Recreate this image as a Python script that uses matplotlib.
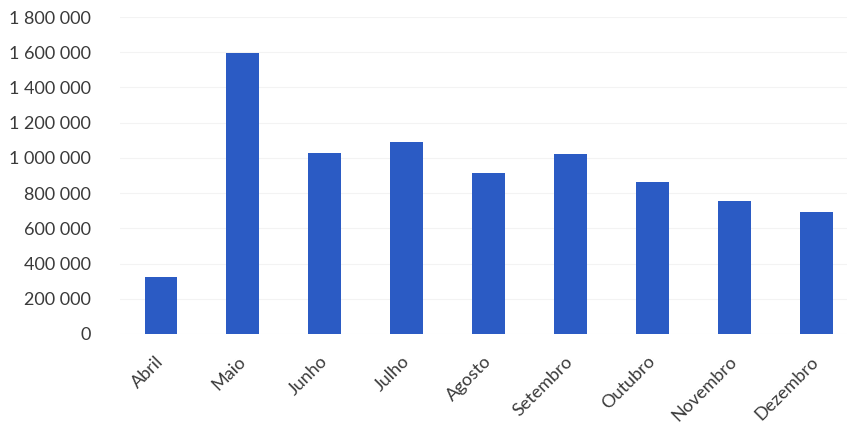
import matplotlib.pyplot as plt
import matplotlib.transforms as mtransforms
from matplotlib.ticker import FuncFormatter

months = ['Abril', 'Maio', 'Junho', 'Julho', 'Agosto', 'Setembro',
          'Outubro', 'Novembro', 'Dezembro']
values = [325000, 1597000, 1028000, 1090000, 913000, 1021000,
          863000, 758000, 690000]
yticks = [0, 200000, 400000, 600000, 800000, 1000000, 1200000,
          1400000, 1600000, 1800000]

plt.rcParams['font.family'] = ['Lato', 'DejaVu Sans']

fig = plt.figure(figsize=(8.47, 4.32), dpi=100)
ax = fig.add_axes([120 / 847, 98 / 432, 727 / 847, 317 / 432])

x = range(len(months))
ax.bar(x, values, width=0.4, color='#2b5bc4', zorder=3)

ax.set_xlim(-0.5, -0.5 + 727 / 81.9)
ax.set_ylim(0, 1800000)
ax.set_yticks(yticks)
ax.yaxis.set_major_formatter(FuncFormatter(lambda v, p: f'{int(v):,}'.replace(',', ' ')))
ax.grid(axis='y', color='#f3f3f3', lw=0.8, zorder=0)

ax.set_xticks(list(x))
ax.set_xticklabels(months, rotation=45, ha='right', va='center',
                   rotation_mode='anchor')
offset = mtransforms.ScaledTranslation(8 / 100, 0, fig.dpi_scale_trans)
for lbl in ax.get_xticklabels():
    lbl.set_transform(lbl.get_transform() + offset)

ax.tick_params(axis='both', length=0, labelsize=13, colors='#3a3a3a')
ax.tick_params(axis='x', pad=18)
ax.tick_params(axis='y', pad=21)
for s in ax.spines.values():
    s.set_visible(False)

fig.savefig('out.png', dpi=100)
